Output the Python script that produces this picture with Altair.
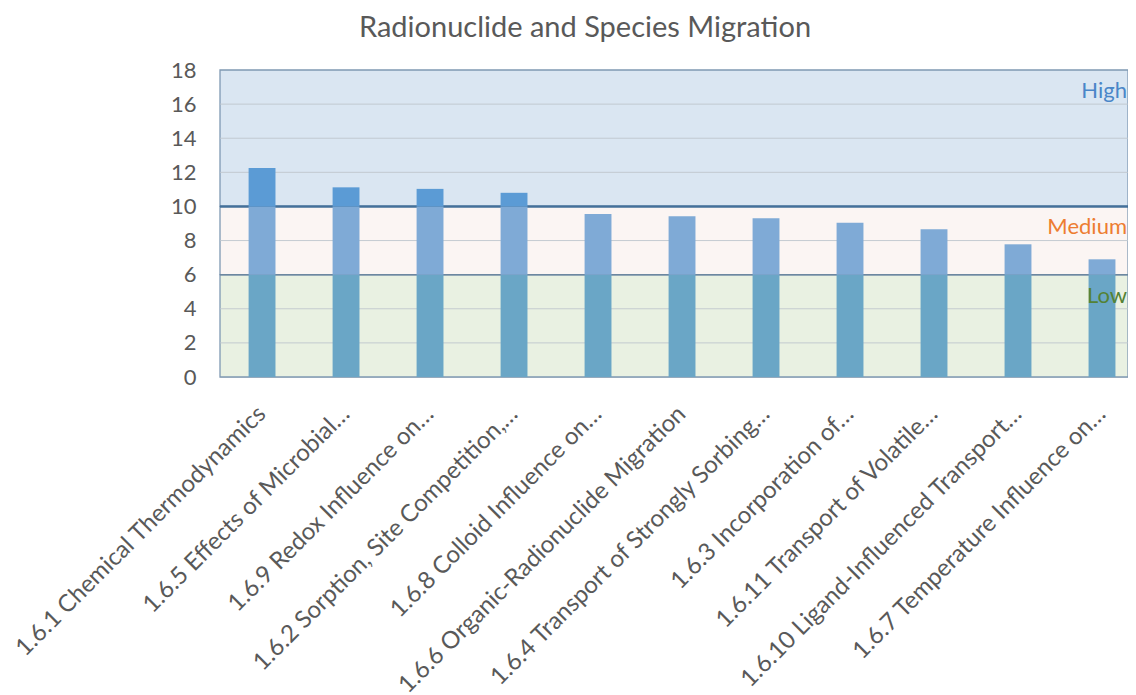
import altair as alt
import pandas as pd

categories = [
    "1.6.1 Chemical Thermodynamics",
    "1.6.5 Effects of Microbial…",
    "1.6.9 Redox Influence on…",
    "1.6.2 Sorption, Site Competition,…",
    "1.6.8 Colloid Influence on…",
    "1.6.6 Organic-Radionuclide Migration",
    "1.6.4 Transport of Strongly Sorbing…",
    "1.6.3 Incorporation of…",
    "1.6.11 Transport of Volatile…",
    "1.6.10 Ligand-Influenced Transport…",
    "1.6.7 Temperature Influence on…",
]
scores = [12.25, 11.12, 11.03, 10.8, 9.55, 9.43, 9.31, 9.04, 8.66, 7.78, 6.9]

band_names = ["Low", "Medium", "High"]
band_low = [0, 6, 10]
band_high = [6, 10, 18]
band_fill = ["#e9f1e2", "#fbf5f3", "#dae6f2"]
band_text_color = ["#548235", "#ed7d31", "#4a86c8"]

y_ticks = [0, 2, 4, 6, 8, 10, 12, 14, 16, 18]
grid_values = [2, 4, 8, 12, 14, 16]

W = 908
H = 307
FONT = "Lato"
GRAY = "#595959"

bars_df = pd.DataFrame({"cat": categories, "v": scores})
bands_df = pd.DataFrame({
    "name": band_names, "lo": band_low, "hi": band_high,
    "fill": band_fill, "tcol": band_text_color,
})
grid_df = pd.DataFrame({"g": grid_values})

yscale = alt.Scale(domain=[0, 18], nice=False, zero=True)
yaxis = alt.Axis(values=y_ticks, grid=False, domain=False, ticks=False,
                 labelFontSize=22, labelColor=GRAY, labelFont=FONT,
                 labelPadding=24, title=None)

xenc = alt.X("cat:N", sort=categories,
             scale=alt.Scale(paddingInner=0.68, paddingOuter=0.245, align=0.695),
             axis=alt.Axis(title=None, labelAngle=-45, labelAlign="right",
                           labelBaseline="middle", labelFontSize=24,
                           labelColor=GRAY, labelFont=FONT, domain=False,
                           ticks=False, labelPadding=33, labelLimit=0))

bands = alt.Chart(bands_df).mark_rect(stroke="#7f99b3", strokeWidth=1.3).encode(
    x=alt.value(0), x2=alt.value(W),
    y=alt.Y("hi:Q", scale=yscale, axis=yaxis), y2="lo:Q",
    fill=alt.Fill("fill:N", scale=None),
)

grid = alt.Chart(grid_df).mark_rule(color="#bfc6cd", strokeWidth=1, opacity=0.9).encode(
    x=alt.value(0), x2=alt.value(W),
    y=alt.Y("g:Q", scale=yscale, axis=yaxis),
)

line10 = alt.Chart(bands_df).transform_filter("datum.name == 'High'").mark_rule(
    color="#44709a", strokeWidth=2.5).encode(
    x=alt.value(0), x2=alt.value(W),
    y=alt.Y("lo:Q", scale=yscale, axis=yaxis),
)
line6 = alt.Chart(bands_df).transform_filter("datum.name == 'Medium'").mark_rule(
    color="#6c87a0", strokeWidth=1.5).encode(
    x=alt.value(0), x2=alt.value(W),
    y=alt.Y("lo:Q", scale=yscale, axis=yaxis),
)

base = alt.Chart(bars_df).transform_calculate(
    low_top="min(datum.v, 6)", mid_top="min(datum.v, 10)"
)
bar_low = base.mark_bar(color="#6aa6c6").encode(
    x=xenc, y=alt.Y("low_top:Q", scale=yscale, axis=yaxis), y2=alt.datum(0),
)
bar_mid = base.transform_filter("datum.v > 6").mark_bar(color="#7faad6").encode(
    x=xenc, y=alt.Y("mid_top:Q", scale=yscale, axis=yaxis), y2=alt.datum(6),
)
bar_high = base.transform_filter("datum.v > 10").mark_bar(color="#5b9bd5").encode(
    x=xenc, y=alt.Y("v:Q", scale=yscale, axis=yaxis), y2=alt.datum(10),
)

band_labels = alt.Chart(bands_df).mark_text(
    align="right", baseline="middle", fontSize=22, font=FONT, dy=21
).encode(
    x=alt.value(W - 1),
    y=alt.Y("hi:Q", scale=yscale, axis=yaxis),
    text="name:N",
    color=alt.Color("tcol:N", scale=None),
)

chart = alt.layer(bands, grid, line10, line6, bar_low, bar_mid, bar_high, band_labels).properties(
    width=W, height=H,
    title=alt.TitleParams("Radionuclide and Species Migration", fontSize=29,
                          font=FONT, color=GRAY, fontWeight="normal",
                          anchor="middle", dx=-89, offset=16),
    autosize=alt.AutoSizeParams(type="none"),
    padding={"left": 212, "top": 62, "right": 0, "bottom": 330},
).configure_view(stroke=None).configure(background="white")

chart.save("out.html", embed_options={"renderer": "svg", "actions": False})
